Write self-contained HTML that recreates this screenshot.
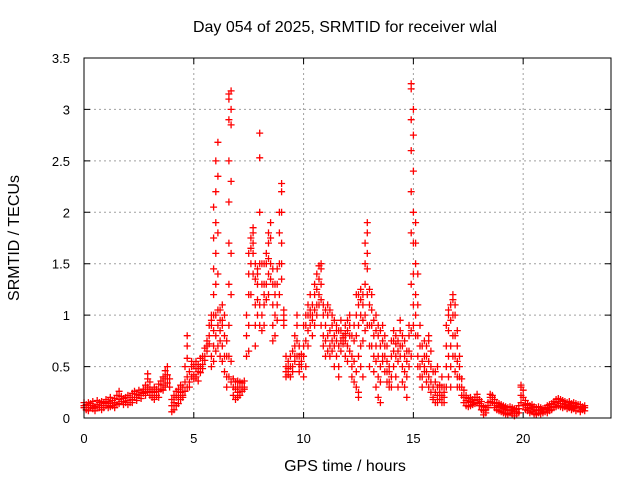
<!DOCTYPE html>
<html><head><meta charset="utf-8"><style>
html,body{margin:0;padding:0;background:#fff;}
svg{display:block;font-family:"Liberation Sans",sans-serif;}
</style></head><body>
<svg id="chart" width="640" height="480" viewBox="0 0 640 480" xmlns="http://www.w3.org/2000/svg">
<rect x="0" y="0" width="640" height="480" fill="#fff"/>
<g id="grid"></g>
<g id="points"></g>
<g id="axes"></g>
<text x="345" y="32" text-anchor="middle" font-size="16">Day 054 of 2025, SRMTID for receiver wlal</text>
<text x="345" y="471" text-anchor="middle" font-size="16">GPS time / hours</text>
<text transform="translate(19,238) rotate(-90)" text-anchor="middle" font-size="16">SRMTID / TECUs</text>
</svg>
<script>
const xTicks=[0,5,10,15,20];
const yTicks=[0,0.5,1,1.5,2,2.5,3,3.5];
const yTickLabels=["0","0.5","1","1.5","2","2.5","3","3.5"];
const times=[0.0,0.1,0.2,0.3,0.4,0.5,0.6,0.7,0.8,0.9,1.0,1.1,1.2,1.3,1.4,1.5,1.6,1.7,1.8,1.9,2.0,2.1,2.2,2.3,2.4,2.5,2.6,2.7,2.8,2.9,3.0,3.1,3.2,3.3,3.4,3.5,3.6,3.7,3.8,3.9,4.0,4.1,4.2,4.3,4.4,4.5,4.6,4.7,4.8,4.9,5.0,5.1,5.2,5.3,5.4,5.5,5.6,5.7,5.8,5.9,6.0,6.1,6.2,6.3,6.4,6.5,6.6,6.7,6.8,6.9,7.0,7.1,7.2,7.3,7.4,7.5,7.6,7.7,7.8,7.9,8.0,8.1,8.2,8.3,8.4,8.5,8.6,8.7,8.8,8.9,9.0,9.1,9.2,9.3,9.4,9.5,9.6,9.7,9.8,9.9,10.0,10.1,10.2,10.3,10.4,10.5,10.6,10.7,10.8,10.9,11.0,11.1,11.2,11.3,11.4,11.5,11.6,11.7,11.8,11.9,12.0,12.1,12.2,12.3,12.4,12.5,12.6,12.7,12.8,12.9,13.0,13.1,13.2,13.3,13.4,13.5,13.6,13.7,13.8,13.9,14.0,14.1,14.2,14.3,14.4,14.5,14.6,14.7,14.8,14.9,15.0,15.1,15.2,15.3,15.4,15.5,15.6,15.7,15.8,15.9,16.0,16.1,16.2,16.3,16.4,16.5,16.6,16.7,16.8,16.9,17.0,17.1,17.2,17.3,17.4,17.5,17.6,17.7,17.8,17.9,18.0,18.1,18.2,18.3,18.4,18.5,18.6,18.7,18.8,18.9,19.0,19.1,19.2,19.3,19.4,19.5,19.6,19.7,19.8,19.9,20.0,20.1,20.2,20.3,20.4,20.5,20.6,20.7,20.8,20.9,21.0,21.1,21.2,21.3,21.4,21.5,21.6,21.7,21.8,21.9,22.0,22.1,22.2,22.3,22.4,22.5,22.6,22.7,22.8];
const values=[
[0.15,0.1,0.12],[0.08,0.13],[0.12,0.07,0.15],[0.1,0.14],[0.09,0.16,0.12],[0.11,0.07],[0.13,0.17,0.1],[0.1,0.15],[0.12,0.08,0.16],[0.14,0.1],
[0.12,0.18,0.15],[0.1,0.16],[0.14,0.2,0.11],[0.12,0.17],[0.15,0.1,0.19],[0.13,0.22],[0.18,0.26,0.14],[0.16,0.21],[0.13,0.19,0.16],[0.15,0.2],
[0.17,0.22,0.13],[0.15,0.2],[0.18,0.24,0.15],[0.2,0.26],[0.17,0.23,0.2],[0.22,0.27],[0.19,0.25,0.22],[0.24,0.28],[0.22,0.32,0.26],[0.3,0.38,0.43,0.25],
[0.28,0.35,0.22],[0.2,0.26],[0.18,0.25,0.3],[0.22,0.28],[0.26,0.33,0.2],[0.28,0.36],[0.32,0.4,0.27],[0.38,0.46,0.3],[0.42,0.5,0.34],[0.3,0.38],
[0.06,0.12,0.18],[0.08,0.15,0.22],[0.12,0.2,0.26],[0.14,0.22,0.28],[0.18,0.25,0.32],[0.22,0.3,0.2],[0.26,0.35,0.5],[0.3,0.58,0.7,0.8,0.4],[0.35,0.45,0.3],[0.4,0.5,0.55],
[0.42,0.52,0.38],[0.48,0.55,0.4],[0.45,0.52,0.36],[0.5,0.58,0.44],[0.52,0.6,0.48],[0.6,0.68,0.56],[0.65,0.75,0.7],[0.8,0.9,0.72],[0.9,1.0,0.95,0.6,0.5],[1.0,0.85,0.7,1.2,1.45,1.75,2.05,0.55],
[1.0,1.3,1.6,1.9,2.2,2.5,0.65,0.8],[1.05,1.4,1.8,2.35,2.68,0.9,0.7],[0.95,1.05,0.85,0.75,0.6],[0.95,1.1,0.9,0.7,0.55],[0.8,1.0,0.6,0.45],[0.6,0.75,0.4,0.3],[0.4,0.6,0.9,1.3,1.7,2.1,2.5,2.9,3.15,3.1],[0.35,0.55,1.2,1.6,2.3,2.85,3.0,3.18],[0.3,0.22,0.38],[0.18,0.28,0.35],
[0.2,0.3,0.25,0.36],[0.22,0.3,0.35],[0.26,0.34,0.3],[0.3,0.36,0.28],[0.6,0.8,1.0],[0.65,0.9,1.2,1.4,1.6],[1.5,1.65,1.75,1.2],[1.6,1.7,1.8,1.85,1.4],[1.5,1.35,1.1,0.9,0.7],[1.45,1.4,1.3,1.15,1.0],
[0.9,1.1,1.5,2.0,2.53,2.77],[0.85,1.0,1.3,1.5],[1.1,1.3,1.5,1.2,0.9],[1.3,1.5,1.6,1.15],[1.4,1.7,1.8,1.55,1.2],[1.5,1.75,1.9,1.35],[1.3,1.1,0.9,0.75,1.45],[1.0,1.2,1.3,0.8],[1.1,1.3,1.45,0.95],[1.2,1.5,1.8,2.0],
[1.35,1.7,2.0,2.2,2.28,1.5],[0.9,1.0,1.05,0.95],[0.5,0.45,0.6,0.4],[0.42,0.55,0.48],[0.4,0.5,0.6],[0.5,0.65,0.45],[0.55,0.7,0.8,0.6],[0.6,0.75,0.9,1.0],[0.45,0.6,0.7,0.52],[0.5,0.55,0.62],
[0.6,0.7,0.9,0.4],[0.75,0.9,1.0,0.5],[0.85,1.0,1.1,0.7],[0.9,1.05,1.2,1.0],[1.0,1.1,0.95,0.8],[1.05,1.2,1.3,0.9],[1.1,1.25,1.4,1.0],[1.2,1.35,1.48,1.1],[1.3,1.45,1.5,1.15,0.9],[1.0,1.1,0.8,0.7],
[0.9,1.05,0.75,0.6],[0.8,1.0,1.1,0.65],[0.7,0.85,1.05,0.6],[0.75,0.9,0.65,1.0],[0.8,0.95,0.7,0.5],[0.75,0.9,0.85,0.6],[0.7,0.85,0.5,0.4],[0.75,0.95,0.85,0.65],[0.78,0.8,0.72],[0.75,0.9,0.82,0.6],
[0.7,0.85,0.95,0.55],[0.8,0.9,1.0,0.65],[0.6,0.8,0.5,0.4],[0.75,0.9,0.55,0.35],[1.0,1.2,0.8,0.45,0.3],[1.1,1.2,0.9,0.6,0.25,0.2],[1.15,1.25,1.0,0.7,0.5],[1.1,1.2,0.95,0.75,0.4],[1.0,1.3,1.5,1.7,0.85],[1.6,1.8,1.9,1.45,1.2,0.9],
[1.1,1.25,0.9,0.7,0.5],[0.9,1.05,1.2,0.7],[0.8,0.95,0.6,0.45],[0.7,0.85,1.0,0.55,0.3],[0.6,0.8,0.9,0.4,0.2],[0.5,0.7,0.85,0.35,0.15],[0.55,0.75,0.9,0.6],[0.6,0.8,0.7,0.45],[0.55,0.7,0.45,0.35],[0.3,0.45,0.35,0.5],
[0.3,0.4,0.6,0.75],[0.5,0.65,0.75,0.85],[0.6,0.72,0.8,0.4],[0.65,0.75,0.55,0.3],[0.7,0.85,0.95,0.6],[0.5,0.7,0.8,0.35],[0.45,0.6,0.75,0.3],[0.4,0.55,0.65,0.2],[0.5,0.65,0.8,0.9],[0.6,0.85,1.3,1.8,2.2,2.6,2.9,3.2,3.25],
[0.9,1.1,1.4,1.7,2.0,2.4,2.75,3.0],[1.0,1.2,1.5,1.7,1.9,0.8],[0.6,0.8,1.1,1.4,0.5],[0.5,0.7,0.9,0.4],[0.4,0.55,0.7,0.3],[0.5,0.6,0.75,0.45],[0.45,0.6,0.7,0.35],[0.4,0.55,0.75,0.8,0.3],[0.35,0.5,0.65,0.25],[0.3,0.45,0.2,0.18],
[0.15,0.25,0.35,0.45],[0.15,0.22,0.3,0.5],[0.18,0.25,0.32],[0.15,0.22,0.3,0.4],[0.2,0.3,0.25,0.15],[0.3,0.5,0.7,0.9],[0.6,0.85,1.0,1.05,0.4],[0.7,0.95,1.1,0.5,0.3],[0.8,1.0,1.15,1.2,0.6],[0.6,0.8,1.0,1.1,0.45],
[0.4,0.55,0.7,0.85,0.3],[0.3,0.4,0.5,0.6],[0.22,0.3,0.38],[0.15,0.2,0.27],[0.12,0.17,0.22],[0.11,0.15,0.19],[0.12,0.16,0.2],[0.13,0.18,0.15],[0.14,0.2,0.17],[0.15,0.2,0.23],
[0.12,0.18,0.14],[0.08,0.12,0.16],[0.03,0.07,0.11],[0.05,0.1,0.08],[0.1,0.15,0.12],[0.16,0.2,0.23],[0.15,0.2,0.22],[0.1,0.14,0.18],[0.08,0.12,0.15],[0.07,0.11,0.14],
[0.06,0.1,0.13],[0.05,0.09,0.12],[0.04,0.08,0.11],[0.03,0.07,0.1],[0.05,0.08,0.11],[0.04,0.07,0.1],[0.02,0.06,0.09],[0.04,0.08,0.06],[0.05,0.09,0.12],[0.15,0.22,0.3,0.32],
[0.12,0.2,0.27],[0.08,0.13,0.17],[0.07,0.1,0.14],[0.05,0.09,0.12],[0.06,0.1,0.13],[0.04,0.08,0.11],[0.03,0.07,0.1],[0.05,0.08,0.11],[0.04,0.07,0.1],[0.05,0.09,0.06],
[0.06,0.1,0.08],[0.05,0.09,0.12],[0.07,0.1,0.13],[0.08,0.11,0.14],[0.1,0.13,0.16],[0.11,0.15,0.18],[0.12,0.16,0.19],[0.11,0.14,0.18],[0.1,0.14,0.17],[0.11,0.13,0.16],
[0.09,0.12,0.15],[0.1,0.13,0.16],[0.08,0.11,0.14],[0.09,0.12,0.15],[0.07,0.1,0.14],[0.1,0.13,0.11],[0.06,0.1,0.13],[0.08,0.11,0.09],[0.07,0.1,0.12]
];
const L=84,R=611,T=58,B=418,XMAX=24,YMAX=3.5;
function xs(v){return L+(R-L)*v/XMAX;}
function ys(v){return B-(B-T)*v/YMAX;}
const NS="http://www.w3.org/2000/svg";
function mk(tag,attrs,parent){const e=document.createElementNS(NS,tag);for(const k in attrs)e.setAttribute(k,attrs[k]);parent.appendChild(e);return e;}
const grid=document.getElementById('grid'),axes=document.getElementById('axes'),pts=document.getElementById('points');
xTicks.forEach(t=>{
  const x=xs(t);
  if(t>0){const g=mk('line',{x1:x,x2:x,y1:T,y2:B,stroke:'#a0a0a0','stroke-dasharray':'2,3','stroke-width':1},grid);
  
  }
  const tk=mk('path',{d:`M${x},${B}v-6M${x},${T}v6`,stroke:'#000','stroke-width':1},axes);
  
  
  const lb=mk('text',{x:x,y:443,'text-anchor':'middle','font-size':13},axes);lb.textContent=String(t);
  
  
});
yTicks.forEach((t,i)=>{
  const y=ys(t);
  if(t>0&&t<YMAX){const g=mk('line',{x1:L,x2:R,y1:y,y2:y,stroke:'#a0a0a0','stroke-dasharray':'2,3','stroke-width':1},grid);
  
  }
  const tk=mk('path',{d:`M${L},${y}h6M${R},${y}h-6`,stroke:'#000','stroke-width':1},axes);
  
  
  const lb=mk('text',{x:70,y:y+5,'text-anchor':'end','font-size':13},axes);lb.textContent=yTickLabels[i];
  
  
});
const frame=mk('rect',{x:L,y:T,width:R-L,height:B-T,fill:'none',stroke:'#000','stroke-width':1},axes);


let d='';
times.forEach((t,i)=>{
  (values[i]||[]).forEach(v=>{
    const x=xs(t),y=ys(v);
    d+=`M${(x-3.5).toFixed(1)},${y.toFixed(1)}h7M${x.toFixed(1)},${(y-3.5).toFixed(1)}v7`;
  });
});
const p=mk('path',{d:d,stroke:'#ff0000','stroke-width':1.3,fill:'none'},pts);


</script>
</body></html>
